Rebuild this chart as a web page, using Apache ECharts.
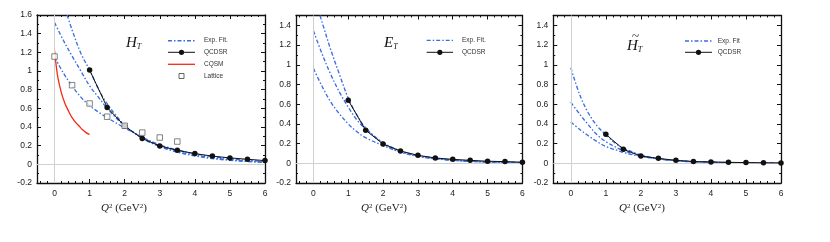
<!DOCTYPE html>
<html>
<head>
<meta charset="utf-8">
<script src="https://cdn.jsdelivr.net/npm/echarts@6/dist/echarts.min.js"></script>
<style>
html,body{margin:0;padding:0;background:#fff;}
#chart{width:830px;height:242px;}
</style>
</head>
<body>
<div id="chart"></div>
<script>
// ---- tick labels ----
const xMajorTicks = [0, 1, 2, 3, 4, 5, 6];
const xMinorTicks = [-0.4, -0.2, 0.2, 0.4, 0.6, 0.8, 1.2, 1.4, 1.6, 1.8, 2.2, 2.4, 2.6, 2.8, 3.2, 3.4, 3.6, 3.8, 4.2, 4.4, 4.6, 4.8, 5.2, 5.4, 5.6, 5.8];

// ---- Panel 1: H_T ----
const qFit = [0, 0.25, 0.5, 0.75, 1, 1.25, 1.5, 2, 2.5, 3, 3.5, 4, 4.5, 5, 5.5, 6];
const htFitLow = [1.15, 0.98, 0.84, 0.72, 0.63, 0.56, 0.50, 0.39, 0.29, 0.21, 0.155, 0.113, 0.083, 0.06, 0.043, 0.03];
const htFitMid = [1.52, 1.33, 1.16, 1.00, 0.84, 0.72, 0.60, 0.41, 0.29, 0.20, 0.14, 0.10, 0.07, 0.05, 0.035, 0.025];
const qHtUp = [0.36, 0.5, 0.75, 1, 1.25, 1.5, 2, 2.5, 3, 3.5, 4, 4.5, 5, 5.5, 6];
const htFitUp = [1.60, 1.44, 1.19, 1.01, 0.81, 0.65, 0.42, 0.28, 0.19, 0.13, 0.09, 0.062, 0.043, 0.03, 0.02];
const qSR = [1, 1.5, 2, 2.5, 3, 3.5, 4, 4.5, 5, 5.5, 6];
const htSR = [1.01, 0.61, 0.41, 0.276, 0.197, 0.15, 0.115, 0.088, 0.069, 0.054, 0.04];
const qCQSM = [0, 0.05, 0.1, 0.2, 0.3, 0.4, 0.5, 0.6, 0.7, 0.8, 0.9, 1.0];
const htCQSM = [1.22, 1.05, 0.92, 0.76, 0.65, 0.57, 0.50, 0.45, 0.41, 0.37, 0.34, 0.32];
const qLat = [0, 0.5, 1, 1.5, 2, 2.5, 3, 3.5];
const htLat = [1.155, 0.848, 0.652, 0.51, 0.413, 0.34, 0.287, 0.244];

// ---- Panel 2: E_T ----
const qEtUp = [0.19, 0.25, 0.5, 0.75, 1, 1.25, 1.5, 2, 2.5, 3, 3.5, 4, 4.5, 5, 5.5, 6];
const etFitUp = [1.50, 1.43, 1.15, 0.90, 0.66, 0.49, 0.36, 0.20, 0.115, 0.07, 0.045, 0.03, 0.02, 0.013, 0.009, 0.006];
const etFitMid = [1.345, 1.11, 0.90, 0.72, 0.57, 0.44, 0.35, 0.21, 0.125, 0.078, 0.05, 0.032, 0.021, 0.014, 0.009, 0.006];
const etFitLow = [0.963, 0.78, 0.62, 0.50, 0.40, 0.32, 0.26, 0.18, 0.115, 0.075, 0.05, 0.033, 0.022, 0.015, 0.01, 0.007];
const etSR = [0.64, 0.335, 0.196, 0.125, 0.081, 0.054, 0.04, 0.03, 0.021, 0.017, 0.011];

// ---- Panel 3: H~_T ----
const httFitUp = [0.97, 0.70, 0.51, 0.38, 0.29, 0.21, 0.155, 0.085, 0.047, 0.026, 0.015, 0.009, 0.005, 0.003, 0.002, 0.001];
const httFitMid = [0.62, 0.50, 0.39, 0.29, 0.22, 0.17, 0.13, 0.075, 0.044, 0.026, 0.015, 0.009, 0.005, 0.003, 0.002, 0.001];
const httFitLow = [0.42, 0.345, 0.28, 0.22, 0.17, 0.14, 0.11, 0.07, 0.045, 0.028, 0.018, 0.011, 0.007, 0.004, 0.003, 0.002];
const httSR = [0.294, 0.142, 0.074, 0.05, 0.03, 0.018, 0.014, 0.01, 0.007, 0.005, 0.003];

// ---- legend texts ----
const legend1 = ['Exp. Fit.', 'QCDSR', 'CQSM', 'Lattice'];
const legend2 = ['Exp. Fit.', 'QCDSR'];
const legend3 = ['Exp. Fit', 'QCDSR'];

// ---- styles ----
const BLUE = '#3a6ee0';
const RED = '#f42a16';
const DASHDOT = [4, 2, 1.5, 2];
const SANS = 'Liberation Sans';
const SERIF = 'Liberation Serif';

function zip(xs, ys) { return xs.map((x, i) => [x, ys[i]]); }

const grids = [
  { left: 37, top: 15, width: 228, height: 168, ymax: 1.6 },
  { left: 296, top: 15.5, width: 226.4, height: 167.5, ymax: 1.5 },
  { left: 553.3, top: 15.5, width: 227.7, height: 167.5, ymax: 1.5 }
];

const xAxis = [], yAxis = [], series = [];
const axisLineStyle = { color: '#111', width: 1.3 };

grids.forEach((g, gi) => {
  const base = { gridIndex: gi, type: 'value', min: -0.5, max: 6, splitLine: { show: false } };
  xAxis.push(Object.assign({}, base, {
    position: 'bottom',
    axisLine: { show: true, onZero: false, lineStyle: axisLineStyle },
    axisTick: { show: true, inside: true, length: 4, customValues: xMajorTicks, lineStyle: { color: '#111', width: 1 } },
    axisLabel: { show: true, customValues: xMajorTicks, fontFamily: SANS, fontSize: 8.5, color: '#222', margin: 6 }
  }));
  xAxis.push(Object.assign({}, base, {
    position: 'bottom',
    axisLine: { show: false, onZero: false },
    axisTick: { show: true, inside: true, length: 2, customValues: xMinorTicks, lineStyle: { color: '#111', width: 1 } },
    axisLabel: { show: false }
  }));
  xAxis.push(Object.assign({}, base, {
    position: 'top',
    axisLine: { show: true, onZero: false, lineStyle: axisLineStyle },
    axisTick: { show: true, inside: true, length: 4, customValues: xMajorTicks, lineStyle: { color: '#111', width: 1 } },
    axisLabel: { show: false }
  }));
  xAxis.push(Object.assign({}, base, {
    position: 'top',
    axisLine: { show: false, onZero: false },
    axisTick: { show: true, inside: true, length: 2, customValues: xMinorTicks, lineStyle: { color: '#111', width: 1 } },
    axisLabel: { show: false }
  }));
  const ybase = { gridIndex: gi, type: 'value', min: -0.2, max: g.ymax, interval: 0.2, splitLine: { show: false } };
  yAxis.push(Object.assign({}, ybase, {
    position: 'left',
    axisLine: { show: true, onZero: false, lineStyle: axisLineStyle },
    axisTick: { show: true, inside: true, length: 4, lineStyle: { color: '#111', width: 1 } },
    minorTick: { show: true, splitNumber: 2, length: 2, lineStyle: { color: '#111', width: 1 } },
    axisLabel: { show: true, showMaxLabel: g.ymax === 1.6, fontFamily: SANS, fontSize: 8.5, color: '#222', margin: 5,
      formatter: v => (Math.round(v * 10) / 10).toString() }
  }));
  yAxis.push(Object.assign({}, ybase, {
    position: 'right',
    axisLine: { show: true, onZero: false, lineStyle: axisLineStyle },
    axisTick: { show: true, inside: true, length: 4, lineStyle: { color: '#111', width: 1 } },
    minorTick: { show: true, splitNumber: 2, length: 2, lineStyle: { color: '#111', width: 1 } },
    axisLabel: { show: false }
  }));
  series.push({
    type: 'line', name: '_zero' + gi, xAxisIndex: gi * 4, yAxisIndex: gi * 2, data: [], silent: true, z: 1,
    markLine: {
      silent: true, symbol: 'none', animation: false, label: { show: false },
      lineStyle: { color: '#d0d0d0', type: 'solid', width: 1 },
      data: [{ xAxis: 0 }, { yAxis: 0 }]
    }
  });
});

function fitLine(gi, data) {
  return {
    type: 'line', name: 'fit' + gi, xAxisIndex: gi * 4, yAxisIndex: gi * 2, data: data,
    symbol: 'none', smooth: 0.35, clip: true, z: 3,
    lineStyle: { color: BLUE, width: 1.35, type: DASHDOT }
  };
}
function srLine(gi, data) {
  return {
    type: 'line', name: 'QCDSR' + gi, xAxisIndex: gi * 4, yAxisIndex: gi * 2, data: data,
    symbol: 'circle', symbolSize: 5.5, z: 5,
    lineStyle: { color: '#111', width: 1 }, itemStyle: { color: '#111' }
  };
}

series.push(fitLine(0, zip(qFit, htFitLow)));
series.push(fitLine(0, zip(qFit, htFitMid)));
series.push(fitLine(0, zip(qHtUp, htFitUp)));
series.push(srLine(0, zip(qSR, htSR)));
series.push({
  type: 'line', name: 'CQSM', xAxisIndex: 0, yAxisIndex: 0, data: zip(qCQSM, htCQSM),
  symbol: 'none', smooth: 0.35, z: 4,
  lineStyle: { color: RED, width: 1.3 }
});
series.push({
  type: 'scatter', name: 'Lattice', xAxisIndex: 0, yAxisIndex: 0, data: zip(qLat, htLat),
  symbol: 'rect', symbolSize: 5.5, z: 6,
  itemStyle: { color: '#fff', borderColor: '#555', borderWidth: 0.9 }
});
series.push(fitLine(1, zip(qEtUp, etFitUp)));
series.push(fitLine(1, zip(qFit, etFitMid)));
series.push(fitLine(1, zip(qFit, etFitLow)));
series.push(srLine(1, zip(qSR, etSR)));
series.push(fitLine(2, zip(qFit, httFitUp)));
series.push(fitLine(2, zip(qFit, httFitMid)));
series.push(fitLine(2, zip(qFit, httFitLow)));
series.push(srLine(2, zip(qSR, httSR)));

// ---- legends drawn as graphic elements ----
const graphic = [];
function legendBlock(x1, x2, tx, rows, names, kinds) {
  names.forEach((name, i) => {
    const y = rows[i];
    const k = kinds[i];
    const cx = (x1 + x2) / 2;
    if (k === 'fit') {
      graphic.push({ type: 'line', shape: { x1: x1, y1: y, x2: x2, y2: y }, style: { stroke: BLUE, lineWidth: 1.35, lineDash: DASHDOT } });
    } else if (k === 'sr') {
      graphic.push({ type: 'line', shape: { x1: x1, y1: y, x2: x2, y2: y }, style: { stroke: '#111', lineWidth: 1 } });
      graphic.push({ type: 'circle', shape: { cx: cx, cy: y, r: 2.6 }, style: { fill: '#111' } });
    } else if (k === 'red') {
      graphic.push({ type: 'line', shape: { x1: x1, y1: y, x2: x2, y2: y }, style: { stroke: RED, lineWidth: 1.3 } });
    } else if (k === 'lat') {
      graphic.push({ type: 'rect', shape: { x: cx - 2.5, y: y - 2.5, width: 5, height: 5 }, style: { fill: '#fff', stroke: '#555', lineWidth: 0.9 } });
    }
    graphic.push({ type: 'text', x: tx, y: y, style: { text: name, fontFamily: SANS, fontSize: 6.5, fill: '#333', verticalAlign: 'middle', align: 'left' } });
  });
}
legendBlock(168, 195, 204, [40.7, 52.3, 64.3, 76], legend1, ['fit', 'sr', 'red', 'lat']);
legendBlock(426.7, 453, 462, [40.3, 52.3], legend2, ['fit', 'sr']);
legendBlock(685, 712, 717.7, [41, 52.3], legend3, ['fit', 'sr']);

const titleRich = {
  h: { fontFamily: SERIF, fontStyle: 'italic', fontWeight: 'normal', fontSize: 15, color: '#111', lineHeight: 16 },
  t: { fontFamily: SERIF, fontStyle: 'italic', fontWeight: 'normal', fontSize: 8, color: '#111', verticalAlign: 'bottom', lineHeight: 10 }
};
const xRich = {
  q: { fontFamily: SERIF, fontStyle: 'italic', fontWeight: 'normal', fontSize: 11, color: '#222' },
  n: { fontFamily: SERIF, fontWeight: 'normal', fontSize: 11, color: '#222' },
  s: { fontFamily: SERIF, fontWeight: 'normal', fontSize: 7, color: '#222', verticalAlign: 'top' }
};
const xLabelText = '{q|Q}{s|2}{n| (GeV}{s|2}{n|)}';
const plainTitle = { fontWeight: 'normal' };

const option = {
  animation: false,
  backgroundColor: '#fff',
  grid: grids.map(g => ({ left: g.left, top: g.top, width: g.width, height: g.height, containLabel: false })),
  xAxis: xAxis,
  yAxis: yAxis,
  title: [
    { text: '{h|H}{t|T}', left: 121, top: 30, textStyle: Object.assign({ rich: titleRich }, plainTitle) },
    { text: '{h|E}{t|T}', left: 379, top: 30, textStyle: Object.assign({ rich: titleRich }, plainTitle) },
    { text: '{h|H}{t|T}', left: 622, top: 33, textStyle: Object.assign({ rich: titleRich }, plainTitle) },
    { text: '~', left: 627, top: 25, textStyle: { fontFamily: SERIF, fontSize: 13, fontWeight: 'normal', color: '#111' } },
    { text: xLabelText, left: 96, top: 198, textStyle: Object.assign({ rich: xRich }, plainTitle) },
    { text: xLabelText, left: 356, top: 198, textStyle: Object.assign({ rich: xRich }, plainTitle) },
    { text: xLabelText, left: 614, top: 198, textStyle: Object.assign({ rich: xRich }, plainTitle) }
  ],
  graphic: graphic,
  series: series
};

const chart = echarts.init(document.getElementById('chart'), null, { renderer: 'canvas' });
chart.setOption(option);
</script>
</body>
</html>
